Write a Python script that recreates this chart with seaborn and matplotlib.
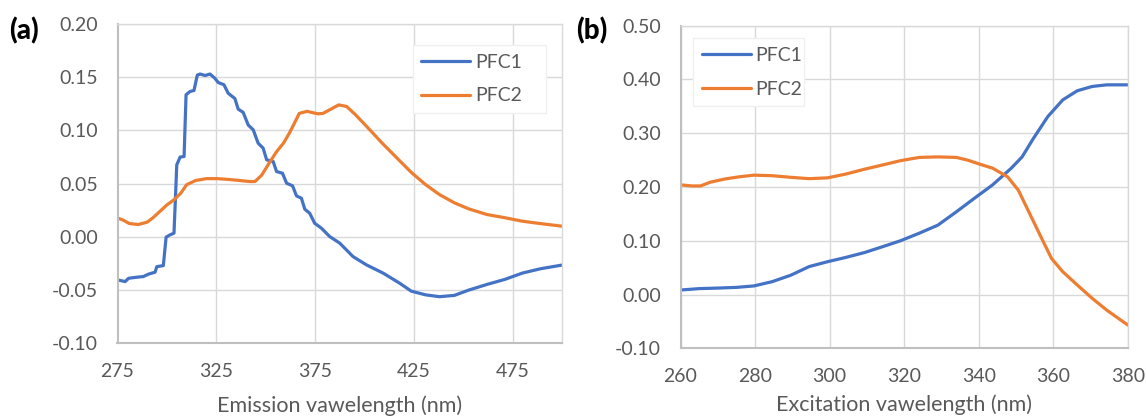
import matplotlib
matplotlib.use("Agg")
import matplotlib.pyplot as plt
import seaborn as sns
import pandas as pd

# ---------------- data: panel (a) emission ----------------
em_x_pfc1 = [275, 278.9, 280.6, 284.8, 288.1, 290.7, 294.0, 294.9, 298.2, 299.6, 301.6, 303.6,
             305.0, 306.7, 308.7, 309.7, 311.7, 313.7, 315.4, 316.8, 319.3, 321.8, 324.3, 326.0,
             328.9, 331.0, 334.4, 336.1, 338.6, 341.2, 343.7, 346.2, 348.7, 350.5, 353.8, 355.5,
             358.5, 360.6, 363.6, 365.6, 368.1, 369.8, 372.3, 374.8, 378.2, 382.4, 387.5, 394.2,
             401.0, 409.4, 417.8, 423.7, 431.0, 438.0, 445.5, 452.8, 462.0, 471.0, 480.0, 489.0,
             500.0]
em_y_pfc1 = [-0.0404, -0.042, -0.0389, -0.0379, -0.0373, -0.035, -0.0332, -0.028, -0.027, -0.0003,
             0.0019, 0.0035, 0.0677, 0.075, 0.0755, 0.1335, 0.1366, 0.1375, 0.152, 0.153, 0.1516,
             0.153, 0.149, 0.145, 0.1429, 0.135, 0.130, 0.120, 0.117, 0.105, 0.1006, 0.088, 0.0834,
             0.0724, 0.0708, 0.0614, 0.0598, 0.0504, 0.048, 0.0385, 0.0363, 0.026, 0.0222, 0.0128,
             0.0082, 0.0003, -0.0059, -0.0185, -0.0263, -0.034, -0.0435, -0.051, -0.0545, -0.0562,
             -0.055, -0.050, -0.0447, -0.040, -0.034, -0.030, -0.0265]

em_x_pfc2 = [275, 278, 281, 285.5, 290, 293, 296.5, 300, 303.7, 307, 310, 314.6, 320, 325.5, 331,
             336.5, 342, 344.6, 348, 352, 355.5, 359, 362, 364.6, 367, 371, 373, 376.5, 379, 383,
             387, 391, 395.5, 402, 409, 416.5, 423.7, 431, 438, 445.5, 452.8, 462, 471, 480, 489,
             497.5, 500]
em_y_pfc2 = [0.0178, 0.0156, 0.0125, 0.0116, 0.0138, 0.018, 0.024, 0.030, 0.035, 0.041, 0.049,
             0.053, 0.0547, 0.0547, 0.054, 0.053, 0.052, 0.052, 0.058, 0.070, 0.080, 0.088, 0.0975,
             0.107, 0.116, 0.118, 0.117, 0.1156, 0.116, 0.120, 0.124, 0.1225, 0.1147, 0.102, 0.088,
             0.074, 0.0606, 0.049, 0.0397, 0.032, 0.0263, 0.021, 0.018, 0.0147, 0.0125, 0.0106,
             0.010]

# ---------------- data: panel (b) excitation ----------------
ex_x_pfc1 = [260, 265, 270, 275, 279.7, 284.6, 289.6, 294.5, 299.4, 304.3, 309.3, 314.2, 319,
             324, 329, 334, 338.8, 343.7, 348.7, 351.6, 354.6, 358.5, 362.5, 366.4, 370.4, 374.3,
             380]
ex_y_pfc1 = [0.0084, 0.011, 0.012, 0.0133, 0.016, 0.024, 0.036, 0.052, 0.061, 0.069, 0.078,
             0.089, 0.100, 0.114, 0.129, 0.154, 0.179, 0.204, 0.235, 0.256, 0.290, 0.331, 0.362,
             0.379, 0.387, 0.390, 0.390]

ex_x_pfc2 = [260, 263, 265.4, 268, 272, 275.8, 279.7, 284.6, 289.6, 294.5, 299.4, 304.3, 309.3,
             314.2, 319, 324, 329, 334, 337, 340, 343.7, 347.7, 350.6, 353.6, 356.6, 359.5, 362.5,
             366.4, 370.4, 374.3, 380]
ex_y_pfc2 = [0.204, 0.202, 0.202, 0.209, 0.215, 0.219, 0.222, 0.221, 0.218, 0.2155, 0.217, 0.224,
             0.233, 0.241, 0.249, 0.255, 0.256, 0.255, 0.250, 0.243, 0.235, 0.219, 0.194, 0.151,
             0.108, 0.067, 0.0425, 0.0177, -0.007, -0.029, -0.057]

series_names = ["PFC1", "PFC2"]
em_xticks = [275, 325, 375, 425, 475]
em_yticks = [-0.10, -0.05, 0.00, 0.05, 0.10, 0.15, 0.20]
ex_xticks = [260, 280, 300, 320, 340, 360, 380]
ex_yticks = [-0.10, 0.00, 0.10, 0.20, 0.30, 0.40, 0.50]

# ---------------- styling ----------------
sns.set_theme(style="white")
plt.rcParams["font.family"] = ["Lato", "DejaVu Sans"]

BLUE = "#4472C4"
ORANGE = "#ED7D31"
GRID = "#D9D9D9"
TXT = "#595959"

W, H = 1146, 416
fig = plt.figure(figsize=(W / 100, H / 100), dpi=100)

ax_a = fig.add_axes([117.5 / W, 1 - 343.3 / H, (562 - 117.5) / W, (343.3 - 24) / H])
ax_b = fig.add_axes([680.5 / W, 1 - 348.3 / H, (1128 - 680.5) / W, (348.3 - 25.7) / H])

df_a = pd.concat([
    pd.DataFrame({"x": em_x_pfc1, "y": em_y_pfc1, "series": series_names[0]}),
    pd.DataFrame({"x": em_x_pfc2, "y": em_y_pfc2, "series": series_names[1]}),
])
df_b = pd.concat([
    pd.DataFrame({"x": ex_x_pfc1, "y": ex_y_pfc1, "series": series_names[0]}),
    pd.DataFrame({"x": ex_x_pfc2, "y": ex_y_pfc2, "series": series_names[1]}),
])

palette = {series_names[0]: BLUE, series_names[1]: ORANGE}

for ax, df, xlim, xticks, ylim, yticks, xlabel, lpad in [
    (ax_a, df_a, (275, 500), em_xticks, (-0.10, 0.20), em_yticks, "Emission vawelength (nm)", 11),
    (ax_b, df_b, (260, 380), ex_xticks, (-0.10, 0.50), ex_yticks, "Excitation vawelength (nm)", 7),
]:
    sns.lineplot(data=df, x="x", y="y", hue="series", palette=palette, estimator=None,
                 sort=False, linewidth=2.3, ax=ax, legend=True)
    ax.set_xlim(*xlim)
    ax.set_ylim(*ylim)
    ax.set_xticks(xticks)
    ax.set_yticks(yticks)
    ax.set_yticklabels(["{:.2f}".format(v) if abs(v) > 1e-9 else "0.00" for v in yticks])
    ax.grid(True, color=GRID, linewidth=1.0)
    ax.set_axisbelow(True)
    for s in ax.spines.values():
        s.set_color(GRID)
        s.set_linewidth(1.0)
    ax.spines["left"].set_color("#BFBFBF")
    ax.spines["bottom"].set_color("#BFBFBF")
    ax.spines["left"].set_linewidth(1.5)
    ax.spines["bottom"].set_linewidth(1.5)
    ax.tick_params(axis="both", length=0, labelsize=14, labelcolor=TXT)
    ax.tick_params(axis="y", pad=14)
    ax.tick_params(axis="x", pad=14)
    ax.set_xlabel(xlabel, fontsize=15.5, color=TXT, labelpad=lpad)
    ax.set_ylabel("")
    for ln in ax.lines:
        ln.set_solid_joinstyle("round")
        ln.set_solid_capstyle("round")

# legends
leg_a = ax_a.legend(loc="upper left", bbox_to_anchor=(0.664, 0.0, 0.299, 0.934), mode="expand",
                    fontsize=14, frameon=True, handlelength=2.5, handletextpad=0.25,
                    labelspacing=0.85, borderpad=0.45, borderaxespad=0, fancybox=False)
leg_b = ax_b.legend(loc="upper left", bbox_to_anchor=(0.0286, 0.0, 0.247, 0.961), mode="expand",
                    fontsize=14, frameon=True, handlelength=2.5, handletextpad=0.25,
                    labelspacing=0.85, borderpad=0.45, borderaxespad=0, fancybox=False)
for leg in (leg_a, leg_b):
    leg.get_frame().set_edgecolor("#F0F0F0")
    leg.get_frame().set_linewidth(1.0)
    leg.get_frame().set_facecolor("white")
    leg.get_frame().set_alpha(1.0)
    for t in leg.get_texts():
        t.set_color(TXT)
    for l in leg.get_lines():
        l.set_linewidth(2.3)

fig.text(9 / W, 1 - 31 / H, "(a)", fontsize=20, fontweight="black", color="black",
         ha="left", va="center")
fig.text(576 / W, 1 - 31 / H, "(b)", fontsize=20, fontweight="black", color="black",
         ha="left", va="center")

fig.savefig("out.png", dpi=100)
